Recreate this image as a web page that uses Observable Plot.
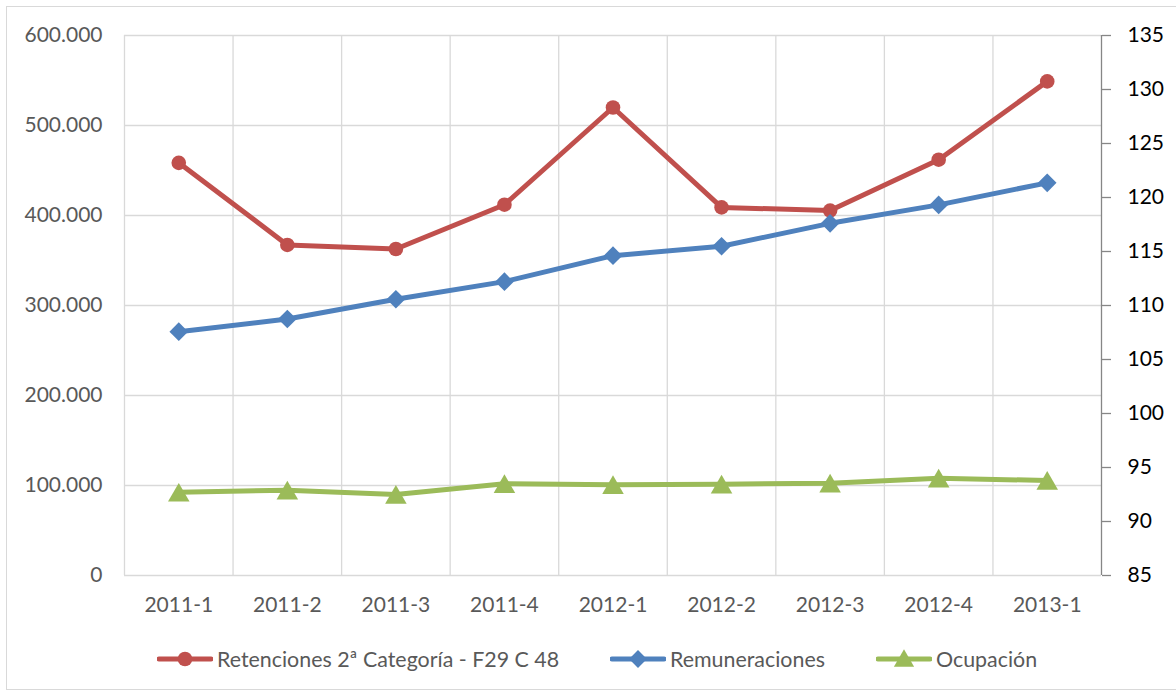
<!DOCTYPE html>
<html><head><meta charset="utf-8">
<script src="https://cdn.jsdelivr.net/npm/d3@7"></script>
<script src="https://cdn.jsdelivr.net/npm/@observablehq/plot@0.6"></script>
<style>
body{margin:0;background:#fff;font-family:Lato,sans-serif;}
#frame{position:absolute;left:6px;top:6px;width:1180px;height:684px;border:1.5px solid #d9d9d9;box-sizing:border-box;}
#chart{position:absolute;left:0;top:0;}
#legend{position:absolute;top:646px;left:0;width:1176px;height:26px;}
.item{position:absolute;top:0;display:flex;align-items:center;font-size:21.4px;color:#595959;white-space:nowrap;}
.item svg{margin-right:4px;}
</style></head><body>
<div id="frame"></div><div id="chart"></div><div id="legend"></div>
<script>
const categories = ["2011-1","2011-2","2011-3","2011-4","2012-1","2012-2","2012-3","2012-4","2013-1"];
const retenciones = [458500, 367300, 362800, 412000, 520000, 409000, 405500, 462000, 549000];
const remuneraciones = [270900, 285000, 307000, 326500, 355400, 365800, 391300, 411800, 436300];
const ocupacion = [92.7, 92.9, 92.5, 93.5, 93.4, 93.45, 93.55, 94.0, 93.8];
const leftTicks = [0, 100000, 200000, 300000, 400000, 500000, 600000];
const rightTicks = [85, 90, 95, 100, 105, 110, 115, 120, 125, 130, 135];
const seriesNames = ["Retenciones 2ª Categoría - F29 C 48", "Remuneraciones", "Ocupación"];
const colors = ["#C0504D", "#4F81BD", "#9BBB59"];

const leftMax = 600000, rMin = 85, rMax = 135;
const toLeft = v => (v - rMin) / (rMax - rMin) * leftMax;
const fromLeft = v => v / leftMax * (rMax - rMin) + rMin;
const es = d3.formatLocale({decimal: ",", thousands: ".", grouping: [3], currency: ["", "€"]});
const fmt = es.format(",");

const rows = (vals, f = d => d) => categories.map((c, i) => ({x: i + 0.5, y: f(vals[i]), c}));
const rRows = rows(retenciones), bRows = rows(remuneraciones), gRows = rows(ocupacion, toLeft);
const boundaries = d3.range(0, categories.length + 1);

const plot = Plot.plot({
  width: 1176, height: 630,
  marginLeft: 124, marginRight: 75, marginTop: 35, marginBottom: 55,
  style: {fontFamily: "Lato, sans-serif", fontSize: "21px", background: "transparent", overflow: "visible"},
  x: {domain: [0, categories.length], axis: null, label: null},
  y: {domain: [0, leftMax], axis: null, label: null},
  marks: [
    Plot.ruleY(leftTicks, {stroke: "#d9d9d9", strokeWidth: 1.3}),
    Plot.ruleX(boundaries.slice(0, -1), {stroke: "#d9d9d9", strokeWidth: 1.3}),
    Plot.ruleX(boundaries.slice(-1), {stroke: "#868686", strokeWidth: 1.3}),
    Plot.axisY(leftTicks, {anchor: "left", label: null, tickSize: 0, tickPadding: 22, tickFormat: fmt, fill: "#595959", fontSize: 21}),
    Plot.axisY(rightTicks.map(toLeft), {anchor: "right", label: null, tickSize: 9, tickPadding: 17, stroke: "#868686", strokeWidth: 1.3, tickFormat: d => String(Math.round(fromLeft(d))), fill: "#000", fontSize: 21}),
    Plot.axisX(categories.map((c, i) => i + 0.5), {anchor: "bottom", label: null, tickSize: 0, tickPadding: 22, tickFormat: d => categories[Math.floor(d)], fill: "#595959", fontSize: 21}),
    Plot.line(rRows, {x: "x", y: "y", stroke: colors[0], strokeWidth: 5, strokeLinejoin: "round"}),
    Plot.dot(rRows, {x: "x", y: "y", r: 7.3, fill: colors[0], symbol: "circle"}),
    Plot.line(bRows, {x: "x", y: "y", stroke: colors[1], strokeWidth: 5, strokeLinejoin: "round"}),
    Plot.dot(bRows, {x: "x", y: "y", r: 8.4, fill: colors[1], symbol: "diamond2"}),
    Plot.line(gRows, {x: "x", y: "y", stroke: colors[2], strokeWidth: 5, strokeLinejoin: "round"}),
    Plot.dot(gRows, {x: "x", y: "y", r: 8, dy: 3, fill: colors[2], symbol: "triangle"})
  ]
});
document.getElementById("chart").appendChild(plot);

// Legend
const legend = document.getElementById("legend");
const lefts = [157, 610, 876];
const symbols = [d3.symbolCircle, d3.symbolDiamond2, d3.symbolTriangle];
const sizes = [Math.PI * 7.3 * 7.3, Math.PI * 8 * 8, Math.PI * 7.5 * 7.5];
seriesNames.forEach((name, i) => {
  const item = document.createElement("div");
  item.className = "item";
  item.style.left = lefts[i] + "px";
  const svg = d3.create("svg").attr("width", 56).attr("height", 26);
  svg.append("line").attr("x1", 2).attr("x2", 54).attr("y1", 13).attr("y2", 13)
    .attr("stroke", colors[i]).attr("stroke-width", 5).attr("stroke-linecap", "round");
  svg.append("path").attr("d", d3.symbol(symbols[i], sizes[i])())
    .attr("transform", `translate(28,${i === 2 ? 15 : 13})`).attr("fill", colors[i]);
  item.appendChild(svg.node());
  const span = document.createElement("span");
  span.textContent = name;
  item.appendChild(span);
  legend.appendChild(item);
});
</script>
</body></html>
